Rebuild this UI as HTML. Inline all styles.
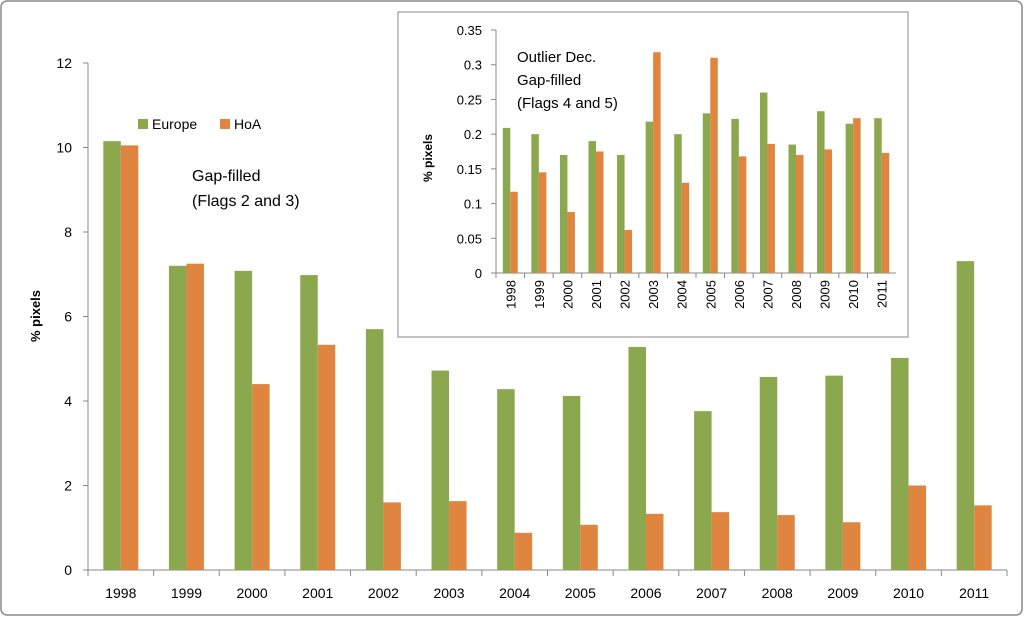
<!DOCTYPE html>
<html><head><meta charset="utf-8"><style>
body{margin:0;background:#fff;font-family:"Liberation Sans",Arial,sans-serif}
</style></head><body>
<svg id="c" width="1024" height="617" xmlns="http://www.w3.org/2000/svg" font-family="Liberation Sans, Arial, sans-serif">
<rect x="1" y="1" width="1021" height="614" rx="6" fill="#fff" stroke="#888" stroke-width="1.5"/>
<g id="main"></g>
<rect x="398" y="12" width="510" height="325" fill="#fff" stroke="#888"/>
<g id="inset"></g>
</svg>
<script>
const years=["1998","1999","2000","2001","2002","2003","2004","2005","2006","2007","2008","2009","2010","2011"];
const europe=[10.15,7.2,7.08,6.98,5.7,4.72,4.28,4.12,5.28,3.76,4.57,4.6,5.02,7.31];
const hoa=[10.05,7.25,4.4,5.33,1.6,1.63,0.88,1.07,1.33,1.37,1.3,1.13,2.0,1.53];
const mainTicks=[0,2,4,6,8,10,12];
const insetEurope=[0.209,0.2,0.17,0.19,0.17,0.218,0.2,0.23,0.222,0.26,0.185,0.233,0.215,0.223];
const insetHoa=[0.117,0.145,0.088,0.175,0.062,0.318,0.13,0.31,0.168,0.186,0.17,0.178,0.223,0.173];
const insetTicks=[0,0.05,0.1,0.15,0.2,0.25,0.3,0.35];
const G="#8BA84E",O="#E0853F",NS="http://www.w3.org/2000/svg";
function el(p,t,a,txt){const e=document.createElementNS(NS,t);for(const k in a)e.setAttribute(k,a[k]);if(txt!=null)e.textContent=txt;p.appendChild(e);return e;}
// main chart
(function(){
const g=document.getElementById('main');
const L=88,R=1007,B=570,T=63,max=12;
const y=v=>B-(v/max)*(B-T);const step=(R-L)/years.length;const x=i=>L+i*step;
el(g,'line',{x1:L,y1:T,x2:L,y2:B,stroke:'#888'});
el(g,'line',{x1:L,y1:B,x2:R,y2:B,stroke:'#888'});
mainTicks.forEach(t=>{el(g,'line',{x1:L-5,y1:y(t),x2:L,y2:y(t),stroke:'#888'});
const e=el(g,'text',{x:L-16,y:y(t)+5,'text-anchor':'end','font-size':14},t);
});
years.forEach((yr,i)=>{
el(g,'line',{x1:x(i),y1:B,x2:x(i),y2:B+6,stroke:'#888'});
const w=17.5,c=x(i)+step/2;
const b1=el(g,'rect',{x:c-w,y:y(europe[i]),width:w,height:B-y(europe[i]),fill:G});

const b2=el(g,'rect',{x:c,y:y(hoa[i]),width:w,height:B-y(hoa[i]),fill:O});

const t=el(g,'text',{x:c,y:598,'text-anchor':'middle','font-size':14},yr);

});
el(g,'line',{x1:R,y1:B,x2:R,y2:B+6,stroke:'#888'});
const yt=el(g,'text',{x:40,y:316,'text-anchor':'middle','font-size':13,'font-weight':'bold',transform:'rotate(-90 40 316)'},'% pixels');

el(g,'rect',{x:138,y:119,width:10,height:10,fill:G});
const l1=el(g,'text',{x:152,y:129,'font-size':14},'Europe');
el(g,'rect',{x:220,y:119,width:10,height:10,fill:O});
const l2=el(g,'text',{x:234,y:129,'font-size':14},'HoA');
const a1=el(g,'text',{x:192,y:181,'font-size':16},'Gap-filled');
el(g,'text',{x:192,y:206,'font-size':16},'(Flags 2 and 3)');
})();
// inset chart
(function(){
const g=document.getElementById('inset');
const L=496,R=896,B=273,T=30,max=0.35;
const y=v=>B-(v/max)*(B-T);const step=(R-L)/years.length;const x=i=>L+i*step;
el(g,'line',{x1:L,y1:T,x2:L,y2:B,stroke:'#888'});
el(g,'line',{x1:L,y1:B,x2:R,y2:B,stroke:'#888'});
insetTicks.forEach(t=>{el(g,'line',{x1:L-5,y1:y(t),x2:L,y2:y(t),stroke:'#888'});
const e=el(g,'text',{x:L-14,y:y(t)+5,'text-anchor':'end','font-size':13},String(t));
});
years.forEach((yr,i)=>{
el(g,'line',{x1:x(i),y1:B,x2:x(i),y2:B+5,stroke:'#888'});
const w=7.5,c=x(i)+step/2;
const b1=el(g,'rect',{x:c-w,y:y(insetEurope[i]),width:w,height:B-y(insetEurope[i]),fill:G});

const b2=el(g,'rect',{x:c,y:y(insetHoa[i]),width:w,height:B-y(insetHoa[i]),fill:O});

const t=el(g,'text',{x:c+5,y:280,'text-anchor':'end','font-size':13,transform:`rotate(-90 ${c+5} 280)`},yr);

});
const yt=el(g,'text',{x:432,y:158,'text-anchor':'middle','font-size':12,'font-weight':'bold',transform:'rotate(-90 432 158)'},'% pixels');

const a=el(g,'text',{x:517,y:62,'font-size':15},'Outlier Dec.');
el(g,'text',{x:517,y:85,'font-size':15},'Gap-filled');
el(g,'text',{x:517,y:108,'font-size':15},'(Flags 4 and 5)');
})();
</script>
</body></html>
